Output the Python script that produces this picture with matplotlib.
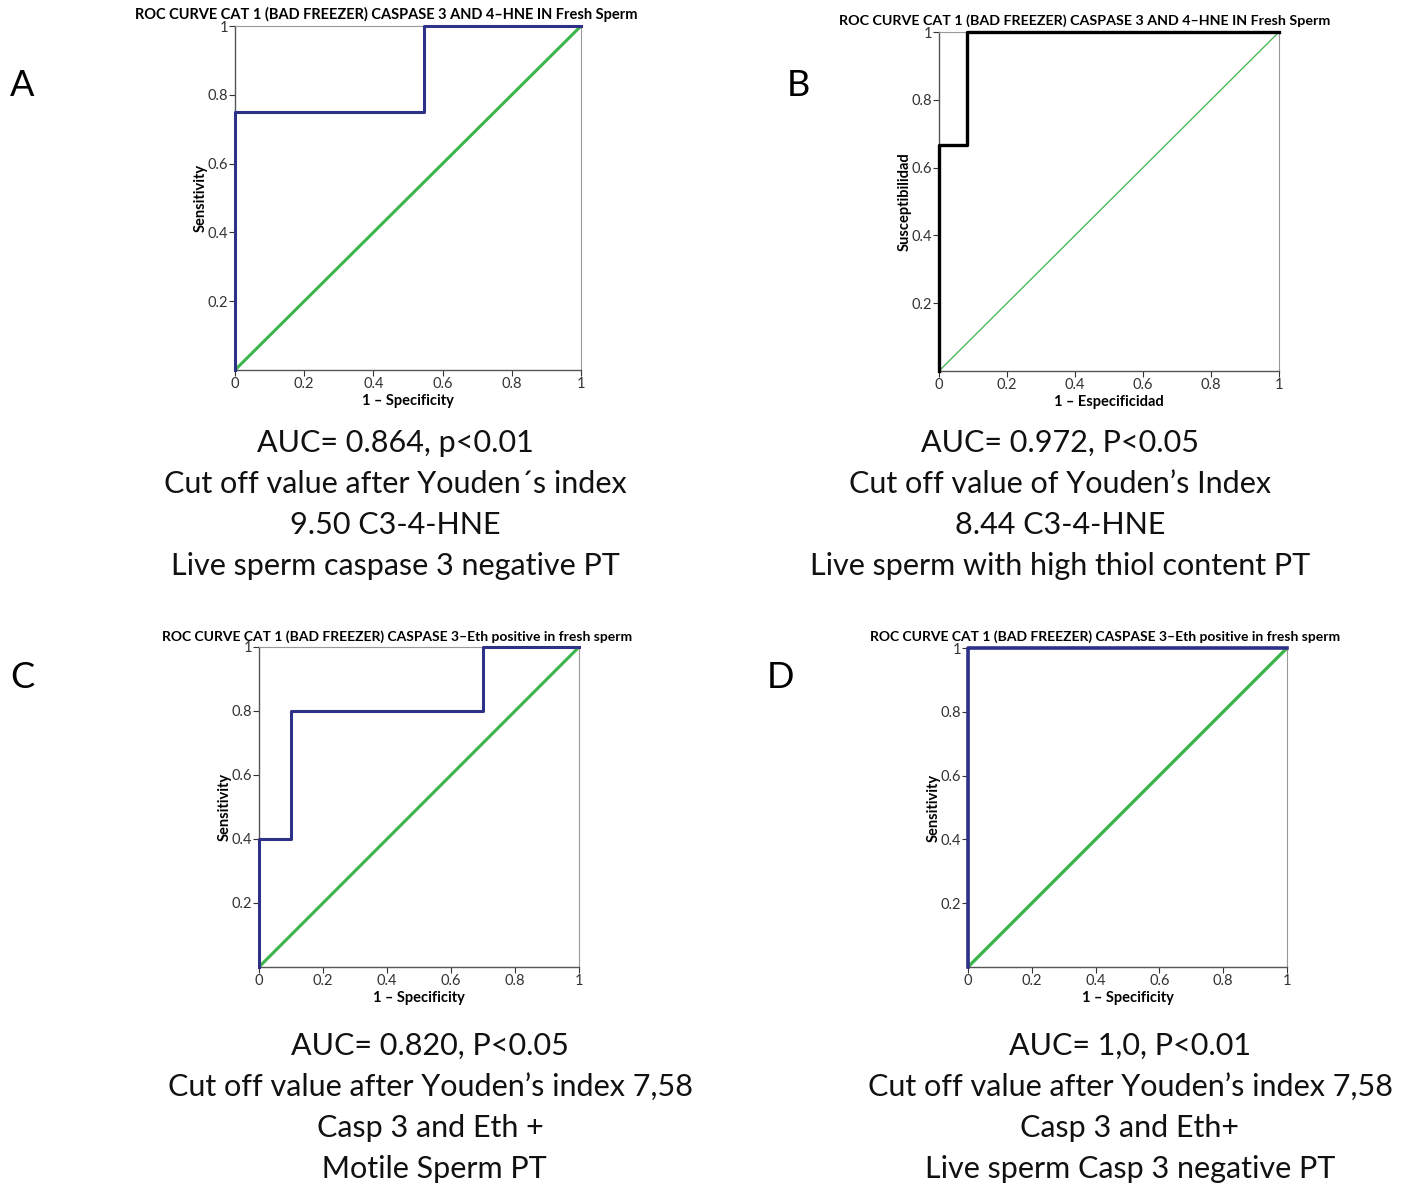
import matplotlib
matplotlib.use('Agg')
import matplotlib.pyplot as plt

# ROC step curves
fpr_a = [0, 0, 0.545, 0.545, 1]
tpr_a = [0, 0.75, 0.75, 1, 1]
fpr_b = [0, 0, 0.083, 0.083, 1]
tpr_b = [0, 0.667, 0.667, 1, 1]
fpr_c = [0, 0, 0.1, 0.1, 0.7, 0.7, 1]
tpr_c = [0, 0.4, 0.4, 0.8, 0.8, 1, 1]
fpr_d = [0, 0, 1]
tpr_d = [0, 1, 1]
diag = [0, 1]

title_a = 'ROC CURVE CAT 1 (BAD FREEZER) CASPASE 3 AND 4\u2013HNE IN Fresh Sperm'
title_c = 'ROC CURVE CAT 1 (BAD FREEZER) CASPASE 3\u2013Eth positive in fresh sperm'

cap_a = ['AUC= 0.864, p<0.01', 'Cut off value after Youden\u00b4s index',
         '9.50 C3-4-HNE', 'Live sperm caspase 3 negative PT']
cap_b = ['AUC= 0.972, P<0.05', 'Cut off value of Youden\u2019s Index',
         '8.44 C3-4-HNE', 'Live sperm with high thiol content PT']
cap_c = ['AUC= 0.820, P<0.05', 'Cut off value after Youden\u2019s index 7,58',
         'Casp 3 and Eth +', ' Motile Sperm PT']
cap_d = ['AUC= 1,0, P<0.01', 'Cut off value after Youden\u2019s index 7,58',
         'Casp 3 and Eth+', 'Live sperm Casp 3 negative PT']

W, H = 1413, 1186
fig = plt.figure(figsize=(W / 100, H / 100), dpi=100)
plt.rcParams['font.family'] = ['Lato', 'DejaVu Sans']

navy = '#2e3188'
green = '#3cb54a'


def make_ax(l, r, t, b):
    return fig.add_axes([l / W, 1 - b / H, (r - l) / W, (b - t) / H])


panels = [
    ((235, 581, 26, 370), fpr_a, tpr_a, navy, 2.2, 2.2, title_a, (386, 14, 10.5),
     'Sensitivity', '1 \u2013 Specificity'),
    ((939, 1279, 32, 371), fpr_b, tpr_b, 'black', 2.4, 0.9, title_a, (1085, 21, 10.3),
     'Susceptibilidad', '1 \u2013 Especificidad'),
    ((259, 579, 647, 967), fpr_c, tpr_c, navy, 2.2, 2.2, title_c, (397, 637, 10),
     'Sensitivity', '1 \u2013 Specificity'),
    ((968, 1287, 648, 967), fpr_d, tpr_d, navy, 2.6, 2.4, title_c, (1105, 637, 10),
     'Sensitivity', '1 \u2013 Specificity'),
]

for box, fx, ty, col, lw, glw, title, tpos, ylab, xlab in panels:
    ax = make_ax(*box)
    ax.plot(diag, diag, color=green, lw=glw, zorder=2)
    ax.plot(fx, ty, color=col, lw=lw, zorder=3, clip_on=False)
    ax.set_xlim(0, 1)
    ax.set_ylim(0, 1)
    ax.set_xticks([0, 0.2, 0.4, 0.6, 0.8, 1])
    ax.set_xticklabels(['0', '0.2', '0.4', '0.6', '0.8', '1'])
    ax.set_yticks([0.2, 0.4, 0.6, 0.8, 1])
    ax.set_yticklabels(['0.2', '0.4', '0.6', '0.8', '1'])
    ax.tick_params(labelsize=10.5, colors='#333333', length=4, width=0.8, pad=1)
    for s in ['left', 'bottom']:
        ax.spines[s].set_color('#555555')
        ax.spines[s].set_linewidth(1.0)
    for s in ['top', 'right']:
        ax.spines[s].set_color('#999999')
        ax.spines[s].set_linewidth(0.8)
    fig.text(tpos[0] / W, 1 - tpos[1] / H, title, fontsize=tpos[2],
             fontweight='bold', ha='center', va='center')
    ax.set_ylabel(ylab, fontsize=10.5, fontweight='bold', labelpad=0)
    ax.set_xlabel(xlab, fontsize=10.5, fontweight='bold', labelpad=2)

# captions
for cx, y0, lines in [(395, 443, cap_a), (1060, 443, cap_b),
                      (430, 1046, cap_c), (1130, 1046, cap_d)]:
    for i, s in enumerate(lines):
        fig.text(cx / W, 1 - (y0 + i * 41) / H, s, fontsize=22,
                 ha='center', va='center', color='#111111')

for lab, x, y in [('A', 22, 85), ('B', 798, 85), ('C', 22, 677), ('D', 780, 677)]:
    fig.text(x / W, 1 - y / H, lab, fontsize=26, ha='center', va='center')

fig.savefig('out.png', dpi=100, facecolor='white')
